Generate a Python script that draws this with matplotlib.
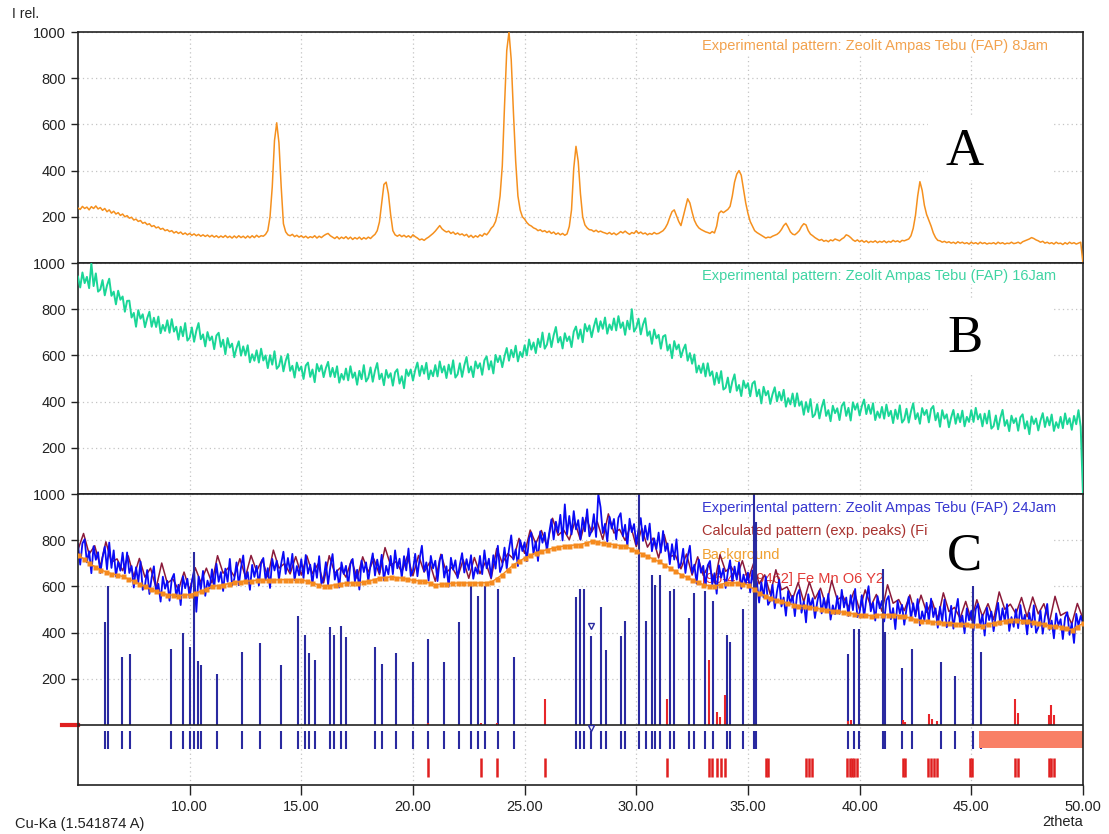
import numpy as np
import matplotlib.pyplot as plt
from matplotlib.patches import Rectangle
from matplotlib.transforms import blended_transform_factory

plt.rcParams['font.family'] = ['Liberation Sans', 'DejaVu Sans']

# scan: 5 - 50 deg 2theta, 0.1 deg step
two_theta = np.linspace(5, 50, 451)

# A - 8 Jam
pattern_8jam = [
    238, 232, 245, 236, 242, 230, 244, 236, 247, 234,
    240, 228, 236, 222, 230, 216, 224, 212, 218, 206,
    212, 200, 205, 194, 198, 186, 190, 180, 184, 172,
    176, 166, 170, 158, 162, 152, 156, 146, 150, 140,
    144, 136, 140, 130, 136, 128, 134, 124, 130, 122,
    128, 120, 126, 118, 124, 116, 122, 115, 121, 113,
    120, 112, 118, 110, 117, 111, 119, 110, 116, 108,
    117, 109, 118, 110, 116, 108, 117, 109, 118, 110,
    120, 112, 118, 116, 124, 140, 200, 330, 530, 607,
    520, 330, 170, 135, 122, 118, 124, 114, 120, 112,
    118, 110, 116, 108, 114, 110, 118, 108, 116, 110,
    118, 124, 128, 118, 112, 106, 114, 104, 112, 106,
    114, 104, 112, 102, 110, 104, 112, 102, 110, 104,
    112, 106, 116, 124, 140, 178, 260, 340, 350, 300,
    210, 140, 122, 116, 122, 114, 120, 112, 118, 110,
    122, 114, 108, 100, 104, 98, 106, 112, 120, 128,
    138, 150, 162, 148, 140, 134, 138, 128, 134, 124,
    130, 122, 126, 118, 124, 112, 120, 110, 118, 112,
    122, 116, 128, 122, 134, 150, 160, 180, 220, 290,
    420, 680, 920, 1000, 880, 650, 440, 290, 230, 200,
    190, 175, 165, 160, 152, 148, 140, 144, 136, 140,
    132, 138, 128, 134, 124, 130, 122, 128, 120, 126,
    158, 230, 410, 505, 440, 300, 200, 165, 152, 144,
    143, 136, 142, 134, 138, 133, 130, 126, 132, 124,
    130, 122, 128, 136, 130, 138, 130, 124, 132, 128,
    140, 128, 134, 126, 130, 122, 128, 124, 132, 126,
    128, 134, 140, 152, 170, 198, 222, 230, 205, 180,
    162, 200, 240, 278, 260, 220, 185, 165, 152, 145,
    140, 135, 132, 128, 136, 130, 160, 215, 225, 218,
    225, 232, 245, 290, 350, 385, 400, 380, 320, 260,
    215, 180, 160, 140, 132, 126, 120, 114, 108, 112,
    110, 116, 120, 124, 132, 145, 162, 172, 155, 135,
    125, 122, 130, 140, 158, 170, 165, 140, 125, 118,
    110, 104, 98, 102, 94, 98, 92, 100, 96, 104,
    100, 96, 104, 110, 122, 118, 110, 100, 94, 100,
    92, 98, 90, 96, 88, 94, 90, 96, 88, 94,
    90, 96, 88, 94, 90, 98, 92, 96, 90, 98,
    96, 100, 104, 118, 150, 205, 290, 352, 315, 250,
    210, 185, 160, 130, 110, 98, 96, 90, 94, 88,
    92, 86, 90, 84, 92, 86, 90, 84, 88, 82,
    90, 84, 88, 82, 90, 84, 88, 82, 86, 84,
    88, 82, 90, 84, 88, 82, 86, 84, 90, 84,
    86, 90, 84, 92, 96, 100, 104, 110, 106, 100,
    96, 90, 94, 86, 90, 84, 88, 82, 90, 84,
    86, 80, 88, 82, 90, 84, 88, 82, 86, 90,
    0]

# B - 16 Jam
pattern_16jam = [
    941, 894, 959, 913, 940, 891, 998, 900, 955, 876,
    885, 926, 860, 903, 932, 858, 876, 821, 880, 841,
    855, 789, 836, 837, 764, 784, 724, 796, 759, 778,
    722, 761, 789, 724, 763, 723, 768, 696, 732, 706,
    752, 698, 757, 703, 724, 668, 724, 683, 740, 664,
    676, 721, 659, 707, 740, 670, 691, 639, 701, 665,
    682, 627, 686, 698, 637, 668, 605, 675, 634, 651,
    592, 632, 661, 599, 639, 600, 644, 570, 605, 577,
    622, 569, 629, 578, 600, 545, 601, 560, 618, 542,
    554, 596, 531, 576, 606, 533, 555, 504, 569, 534,
    552, 498, 556, 569, 507, 539, 484, 563, 531, 557,
    506, 545, 572, 508, 546, 506, 553, 482, 520, 495,
    543, 492, 553, 503, 526, 473, 533, 497, 558, 487,
    503, 548, 486, 534, 567, 497, 521, 471, 537, 503,
    523, 469, 527, 540, 478, 510, 458, 539, 511, 539,
    491, 536, 569, 511, 555, 521, 568, 497, 535, 510,
    558, 509, 574, 526, 553, 502, 560, 520, 579, 504,
    518, 566, 507, 557, 593, 526, 552, 506, 574, 544,
    566, 516, 579, 596, 539, 575, 522, 602, 571, 598,
    549, 596, 632, 577, 624, 592, 642, 574, 615, 593,
    644, 600, 669, 625, 656, 610, 672, 636, 699, 629,
    647, 695, 636, 687, 723, 656, 680, 630, 696, 662,
    682, 636, 703, 725, 672, 712, 657, 736, 704, 730,
    679, 725, 760, 702, 748, 715, 764, 694, 734, 710,
    760, 708, 770, 719, 743, 689, 750, 713, 800, 703,
    720, 759, 691, 734, 761, 685, 704, 650, 712, 674,
    689, 629, 682, 688, 621, 647, 588, 662, 626, 647,
    592, 625, 647, 577, 610, 564, 604, 526, 556, 524,
    565, 509, 566, 512, 531, 473, 525, 480, 532, 452,
    460, 504, 440, 487, 518, 447, 472, 424, 491, 459,
    480, 423, 478, 488, 423, 452, 392, 464, 427, 446,
    390, 432, 462, 401, 442, 405, 451, 378, 415, 388,
    435, 379, 436, 382, 401, 343, 398, 355, 411, 333,
    344, 389, 327, 375, 408, 338, 363, 315, 382, 350,
    371, 320, 381, 397, 338, 373, 318, 397, 365, 391,
    340, 380, 409, 346, 386, 347, 393, 320, 357, 330,
    377, 326, 387, 337, 360, 307, 365, 325, 384, 309,
    323, 369, 309, 358, 393, 324, 350, 304, 372, 342,
    364, 310, 368, 381, 319, 351, 291, 363, 326, 345,
    289, 332, 364, 304, 347, 311, 361, 293, 334, 312,
    363, 312, 373, 323, 346, 293, 348, 305, 361, 283,
    294, 340, 280, 329, 364, 295, 320, 272, 339, 307,
    328, 274, 332, 345, 283, 315, 259, 336, 303, 327,
    275, 318, 350, 290, 333, 297, 344, 273, 311, 286,
    334, 285, 349, 302, 328, 278, 338, 302, 363, 291,
    0]

# C - 24 Jam
pattern_24jam = [
    783, 694, 786, 804, 704, 752, 657, 774, 715, 748,
    658, 724, 772, 674, 790, 680, 756, 644, 706, 668,
    746, 656, 747, 658, 688, 595, 683, 617, 708, 585,
    603, 671, 567, 639, 687, 571, 611, 534, 642, 590,
    624, 538, 632, 654, 556, 607, 519, 644, 592, 633,
    550, 619, 670, 490, 643, 586, 667, 559, 625, 591,
    674, 595, 698, 620, 662, 580, 677, 620, 719, 605,
    632, 704, 605, 681, 734, 622, 662, 585, 693, 641,
    689, 604, 700, 723, 627, 679, 593, 719, 669, 711,
    630, 699, 750, 654, 723, 666, 741, 627, 688, 648,
    718, 636, 736, 655, 694, 609, 700, 637, 731, 611,
    632, 705, 608, 685, 740, 629, 670, 595, 704, 654,
    689, 603, 697, 719, 621, 672, 586, 712, 662, 704,
    623, 692, 743, 647, 716, 659, 737, 626, 689, 652,
    732, 653, 756, 678, 720, 638, 731, 669, 764, 645,
    668, 741, 644, 721, 776, 665, 704, 625, 732, 678,
    711, 623, 716, 737, 638, 687, 599, 724, 672, 713,
    636, 694, 744, 660, 718, 671, 735, 633, 682, 655,
    732, 653, 756, 678, 720, 638, 735, 677, 776, 662,
    689, 768, 677, 760, 821, 716, 760, 688, 800, 753,
    791, 709, 808, 833, 740, 795, 710, 838, 789, 833,
    753, 831, 890, 803, 880, 832, 910, 799, 955, 825,
    905, 825, 926, 847, 887, 804, 898, 838, 934, 817,
    841, 913, 814, 1000, 943, 831, 871, 794, 902, 850,
    892, 804, 897, 917, 818, 867, 774, 893, 835, 870,
    782, 848, 896, 797, 863, 803, 872, 752, 808, 762,
    833, 746, 840, 753, 786, 696, 783, 716, 804, 680,
    697, 763, 658, 729, 776, 658, 694, 612, 716, 659,
    689, 600, 691, 710, 609, 657, 568, 691, 638, 677,
    593, 662, 713, 617, 686, 629, 704, 590, 651, 611,
    660, 574, 669, 585, 619, 530, 618, 552, 643, 520,
    538, 607, 505, 578, 628, 513, 552, 473, 580, 526,
    559, 471, 564, 585, 486, 535, 444, 566, 511, 549,
    463, 531, 580, 483, 550, 492, 568, 456, 518, 480,
    558, 481, 585, 509, 552, 472, 562, 497, 589, 467,
    487, 562, 466, 545, 601, 492, 530, 452, 558, 505,
    537, 448, 540, 558, 458, 506, 415, 537, 482, 520,
    434, 503, 554, 458, 527, 470, 545, 431, 492, 452,
    529, 448, 547, 467, 505, 421, 512, 449, 543, 423,
    444, 516, 417, 493, 546, 434, 474, 397, 505, 453,
    494, 408, 502, 524, 426, 477, 387, 508, 454, 491,
    406, 476, 529, 434, 505, 449, 523, 407, 467, 425,
    501, 419, 519, 438, 477, 392, 485, 423, 518, 399,
    422, 494, 395, 471, 524, 412, 452, 375, 483, 431,
    458, 372, 466, 488, 390, 441, 355, 481, 430, 472,
    441]

# background and calculated pattern, 0.25 deg step
two_theta_bg = np.linspace(5, 50, 181)
background_24jam = [
    738, 719, 700, 686, 672, 663, 655, 649, 643, 632, 622, 611, 600, 589, 578, 571,
    564, 562, 560, 562, 564, 571, 578, 589, 600, 603, 607, 612, 618, 620, 622, 624,
    626, 626, 626, 627, 629, 629, 629, 629, 629, 622, 615, 607, 600, 603, 607, 611,
    615, 615, 615, 618, 622, 629, 636, 638, 641, 638, 636, 631, 626, 624, 622, 614,
    607, 609, 611, 613, 615, 615, 615, 615, 615, 616, 618, 634, 651, 672, 694, 708,
    723, 734, 745, 752, 759, 765, 771, 774, 777, 779, 781, 788, 795, 791, 788, 784,
    781, 777, 774, 763, 752, 741, 730, 719, 708, 694, 680, 665, 651, 640, 629, 618,
    607, 603, 600, 607, 615, 615, 615, 611, 607, 589, 571, 560, 550, 542, 535, 528,
    521, 517, 513, 509, 506, 502, 499, 495, 492, 488, 484, 480, 477, 475, 473, 475,
    477, 477, 477, 473, 470, 463, 456, 452, 448, 446, 444, 442, 441, 439, 437, 435,
    434, 432, 430, 435, 441, 446, 451, 453, 456, 452, 448, 444, 441, 435, 430, 427,
    424, 418, 412, 426, 440]
calculated_24jam = [
    758, 829, 740, 776, 687, 793, 705, 719, 668, 732, 642, 721, 640, 679, 593, 701,
    614, 632, 585, 662, 584, 681, 618, 679, 615, 733, 657, 682, 643, 720, 642, 734,
    666, 716, 641, 757, 679, 699, 654, 729, 649, 732, 655, 697, 615, 733, 657, 681,
    640, 715, 635, 728, 662, 719, 651, 768, 691, 708, 661, 731, 646, 734, 662, 704,
    622, 739, 661, 683, 640, 715, 635, 725, 655, 706, 633, 764, 701, 742, 719, 808,
    743, 844, 785, 842, 774, 895, 821, 844, 802, 879, 801, 898, 835, 881, 803, 914,
    831, 847, 799, 863, 772, 851, 770, 809, 723, 824, 730, 735, 676, 740, 649, 728,
    647, 693, 615, 737, 665, 685, 640, 711, 627, 699, 611, 650, 565, 672, 585, 598,
    546, 617, 533, 619, 546, 592, 514, 625, 542, 558, 509, 580, 497, 585, 513, 565,
    492, 607, 527, 543, 495, 563, 476, 562, 488, 536, 459, 572, 491, 509, 462, 535,
    454, 542, 470, 525, 456, 576, 501, 523, 481, 552, 468, 554, 481, 525, 445, 557,
    474, 488, 437, 526, 460]

# reference pattern sticks
blue_pos = [6.21, 6.36, 6.95, 7.34, 9.15, 9.70, 10.03, 10.21, 10.39, 10.51, 11.21,
            12.34, 13.16, 14.09, 14.84, 15.15, 15.33, 15.60, 16.28, 16.47, 16.77,
            16.98, 18.28, 18.60, 19.24, 20.02, 20.66, 21.41, 22.04, 22.62, 22.91,
            23.22, 23.79, 24.53, 27.28, 27.48, 27.67, 27.99, 28.42, 28.63, 29.31,
            29.49, 30.11, 30.44, 30.70, 30.85, 31.06, 31.49, 31.67, 32.37, 32.57,
            33.09, 33.42, 34.06, 34.21, 34.77, 35.25, 35.34, 39.50, 39.77, 39.98,
            41.03, 41.15, 41.90, 42.33, 43.65, 44.25, 45.07, 45.45]
blue_int = [447, 600, 296, 308, 330, 397, 339, 750, 275, 258, 222,
            317, 356, 258, 470, 391, 313, 283, 423, 391, 430,
            380, 337, 265, 313, 271, 373, 271, 445, 600, 560,
            600, 587, 296, 556, 587, 590, 384, 511, 326, 386,
            451, 1000, 451, 651, 607, 651, 578, 587, 464, 573,
            578, 536, 391, 358, 500, 1000, 877, 307, 417, 417,
            674, 401, 246, 330, 271, 210, 600, 318]
red_pos = [20.66, 23.03, 23.76, 25.92, 31.37, 33.24, 33.61, 33.73, 33.99, 39.5,
           39.6, 41.93, 42.03, 43.1, 43.24, 43.46, 46.97, 47.09, 48.46, 48.58, 48.69]
red_int = [8, 10, 8, 113, 113, 282, 58, 36, 130, 15,
           22, 20, 12, 48, 25, 15, 113, 53, 43, 87, 43]
red_tick_pos = [20.66, 23.03, 23.76, 25.92, 31.37, 33.24, 33.4, 33.61, 33.78, 33.99,
                35.8, 35.92, 37.6, 37.72, 37.87, 39.45, 39.55, 39.65, 39.75, 39.88,
                41.93, 42.03, 43.07, 43.2, 43.33, 43.47, 44.96, 45.04, 46.97, 47.09,
                48.46, 48.58, 48.69]

xticks = [10, 15, 20, 25, 30, 35, 40, 45, 50]
yticks = [200, 400, 600, 800, 1000]

fig = plt.figure(figsize=(11.09, 8.34), dpi=100)
L, W = 0.0703, 0.9062
axA = fig.add_axes([L, 0.68465, W, 0.27698])
axB = fig.add_axes([L, 0.40767, W, 0.27698])
axC = fig.add_axes([L, 0.05875, W, 0.34892])

for ax in (axA, axB, axC):
    ax.set_xlim(5, 50)
    ax.set_xticks(xticks)
    ax.set_yticks(yticks)
    ax.grid(True, color='#c4c4c4', ls=(0, (1, 2.5)), lw=0.9)
    ax.set_axisbelow(True)
    ax.tick_params(direction='out', length=5, width=1, labelsize=10.5, colors='#222222')
    for s in ax.spines.values():
        s.set_linewidth(1.2)
        s.set_color('#222222')

axA.set_ylim(0, 1000)
axB.set_ylim(0, 1000)
axC.set_ylim(-260, 1000)
for ax in (axA, axB):
    ax.tick_params(axis='x', length=0, labelbottom=False)
axC.set_xticklabels([f'{v:.2f}' for v in xticks])
axC.tick_params(axis='x', length=7, pad=4)

# patterns
axA.plot(two_theta, pattern_8jam, color='#f5901e', lw=1.1, zorder=3)
axB.plot(two_theta, pattern_16jam, color='#1ad697', lw=1.4, zorder=3)
axC.plot(two_theta_bg, calculated_24jam, color='#8b1a3a', lw=1.1, zorder=2.1)
axC.plot(two_theta, pattern_24jam, color='#0a0af5', lw=1.3, zorder=2.2)
axC.vlines(blue_pos, 0, blue_int, color='#2a2aa0', lw=1.5, zorder=2.3)
axC.vlines(red_pos, 0, red_int, color='#e8262a', lw=1.5, zorder=2.35)
axC.plot(two_theta_bg, background_24jam, color='#f58a1e', lw=1.0, marker='s', ms=3.6,
         mec='none', zorder=2.6)
axC.axhline(0, color='#222222', lw=1.2, zorder=2.5)
axC.vlines(blue_pos, -106, -25, color='#2a2aa0', lw=1.5, zorder=2.5)
axC.vlines(red_tick_pos, -226, -143, color='#e02020', lw=1.8, zorder=2.5)
axC.add_patch(Rectangle((45.35, -100), 50 - 45.35, 74, fc='#f98066', ec='none', zorder=2.5))
axC.plot([27.99], [430], marker='v', ms=5, mfc='none', mec='#2a2aa0', zorder=3)
axC.plot([27.99], [-14], marker='v', ms=5, mfc='none', mec='#2a2aa0', zorder=3)
trC = blended_transform_factory(axC.transAxes, axC.transData)
axC.plot([-0.016, 0], [0, 0], transform=trC, color='#e02020', lw=3, clip_on=False)

# legends
box = dict(fc='white', ec='none', pad=1)
axA.text(32.94, 940, 'Experimental pattern: Zeolit Ampas Tebu (FAP) 8Jam',
         color='#f2a24e', fontsize=10.5, va='center', bbox=box, zorder=1.6)
axB.text(32.94, 944, 'Experimental pattern: Zeolit Ampas Tebu (FAP) 16Jam',
         color='#3fd4a2', fontsize=10.5, va='center', bbox=box, zorder=1.6)
axC.text(32.94, 941, 'Experimental pattern: Zeolit Ampas Tebu (FAP) 24Jam',
         color='#3636d0', fontsize=10.5, va='center', bbox=box, zorder=1.6)
axC.text(32.94, 839, 'Calculated pattern (exp. peaks) (Fit)',
         color='#a8322f', fontsize=10.5, va='center', bbox=box, zorder=1.6)
axC.text(32.94, 734, 'Background', color='#f0a030', fontsize=10.5, va='center',
         bbox=box, zorder=1.6)
axC.text(32.94, 632, '[96-412-9462] Fe Mn O6 Y2', color='#e23a36', fontsize=10.5,
         va='center', bbox=box, zorder=1.6)

# panel letters
for ax, lo, hi, base, letter in ((axA, 359, 640, 424, 'A'),
                                 (axB, 515, 840, 615, 'B'),
                                 (axC, 577, 911, 672, 'C')):
    ax.add_patch(Rectangle((43.05, lo), 5.55, hi - lo, fc='white', ec='none', zorder=1.8))
    ax.text(44.71, base, letter, family=['Liberation Serif', 'DejaVu Serif'],
            fontsize=38, ha='center', va='baseline', color='black', zorder=5)

fig.text(0.011, 0.983, 'I rel.', fontsize=10, va='center', color='#222222')
fig.text(0.0135, 0.012, 'Cu-Ka (1.541874 A)', fontsize=10.5, va='center', color='#222222')
fig.text(0.9766, 0.0144, '2theta', fontsize=10.5, va='center', ha='right', color='#222222')

fig.savefig('out.png', dpi=100)
